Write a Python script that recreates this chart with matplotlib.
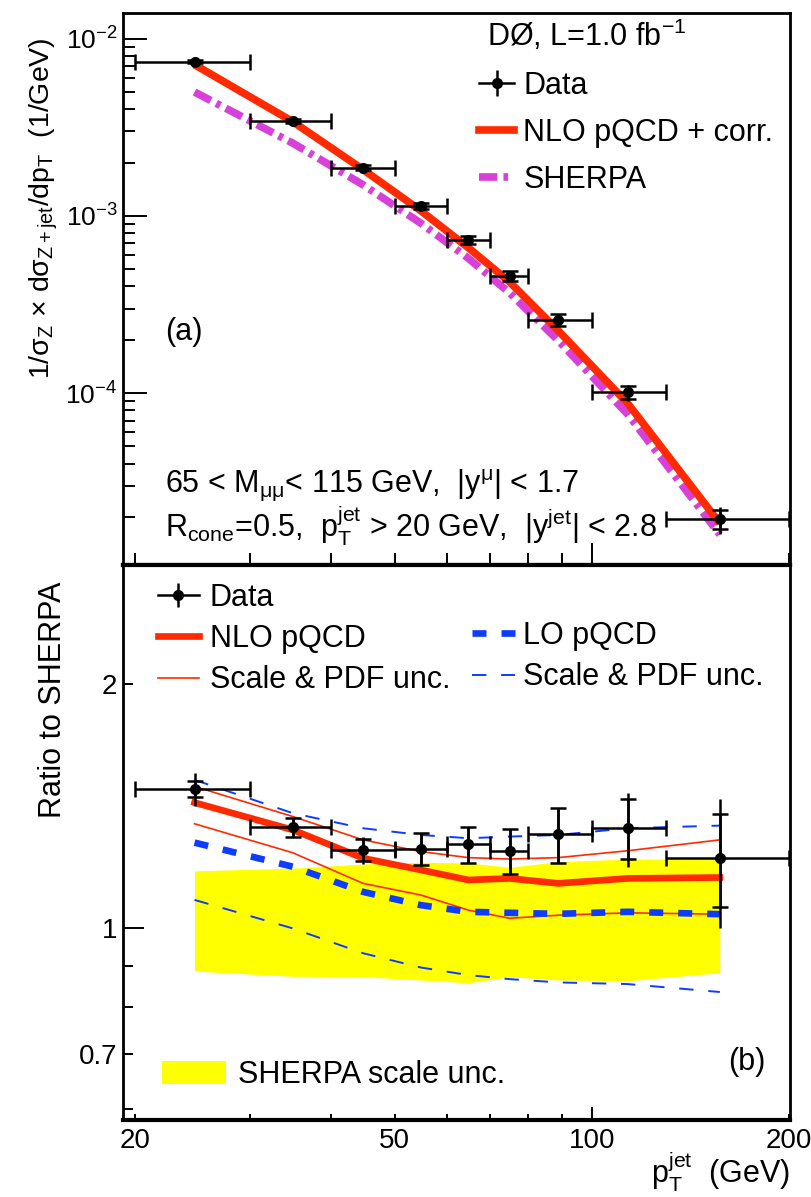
import matplotlib
matplotlib.use('Agg')
import matplotlib.pyplot as plt
from matplotlib.lines import Line2D
from matplotlib.patches import Patch
from matplotlib.ticker import FixedLocator, FixedFormatter, NullFormatter

plt.rcParams['font.family'] = ['Liberation Sans', 'DejaVu Sans']
plt.rcParams['mathtext.fontset'] = 'custom'
plt.rcParams['mathtext.rm'] = 'Liberation Sans'
plt.rcParams['mathtext.it'] = 'Liberation Sans:italic'
plt.rcParams['mathtext.default'] = 'regular'

# jet pT bins (GeV) and point positions
pt = [24.7, 34.9, 44.7, 54.8, 64.8, 74.9, 88.9, 113.5, 157.0]
bin_lo = [20, 30, 40, 50, 60, 70, 80, 100, 130]
bin_hi = [30, 40, 50, 60, 70, 80, 100, 130, 200]

# (a) normalised cross section (1/GeV)
xs_data = [7.44e-3, 3.44e-3, 1.87e-3, 1.14e-3, 7.31e-4, 4.58e-4, 2.58e-4, 1.01e-4, 1.94e-5]
xs_stat = [1.7e-4, 9.6e-5, 6.0e-5, 5.1e-5, 3.7e-5, 2.9e-5, 2.0e-5, 8.5e-6, 2.4e-6]
xs_tot = [3.4e-4, 9.6e-5, 7.1e-5, 5.2e-5, 3.7e-5, 2.9e-5, 2.0e-5, 1.06e-5, 3.4e-6]
xs_nlo = [7.15e-3, 3.41e-3, 1.83e-3, 1.07e-3, 6.61e-4, 4.24e-4, 2.25e-4, 8.75e-5, 1.84e-5]
xs_sherpa = [5.01e-3, 2.58e-3, 1.50e-3, 9.1e-4, 5.76e-4, 3.68e-4, 1.98e-4, 7.6e-5, 1.59e-5]

# (b) ratio to SHERPA
ratio_data = [1.484, 1.331, 1.249, 1.252, 1.269, 1.245, 1.305, 1.330, 1.222]
ratio_stat = [0.034, 0.037, 0.040, 0.057, 0.064, 0.080, 0.103, 0.112, 0.160]
ratio_tot = [0.068, 0.037, 0.048, 0.058, 0.064, 0.080, 0.103, 0.139, 0.220]
nlo_ratio = [1.428, 1.322, 1.220, 1.180, 1.147, 1.152, 1.136, 1.152, 1.155]
nlo_up = [1.495, 1.373, 1.285, 1.243, 1.222, 1.217, 1.222, 1.246, 1.285]
nlo_dn = [1.345, 1.239, 1.136, 1.099, 1.053, 1.029, 1.038, 1.045, 1.041]
lo_ratio = [1.275, 1.191, 1.109, 1.068, 1.048, 1.045, 1.042, 1.048, 1.041]
lo_up = [1.523, 1.386, 1.328, 1.303, 1.291, 1.297, 1.303, 1.328, 1.338]
lo_dn = [1.084, 1.000, 0.932, 0.895, 0.876, 0.866, 0.858, 0.854, 0.835]
sherpa_up = [1.177, 1.186, 1.200, 1.206, 1.204, 1.189, 1.208, 1.217, 1.217]
sherpa_dn = [0.886, 0.873, 0.872, 0.864, 0.857, 0.872, 0.864, 0.862, 0.882]

RED = '#ff2a00'
BLUE = '#0d3cff'
MAG = '#d93fd9'
YEL = '#ffff00'
fs = 22

xerr = [[p - lo for p, lo in zip(pt, bin_lo)], [hi - p for p, hi in zip(pt, bin_hi)]]

fig = plt.figure(figsize=(8.12, 11.97), dpi=100)
W, H = 812.0, 1197.0
ax1 = fig.add_axes([123 / W, 1 - 565 / H, 667 / W, 552 / H])
ax2 = fig.add_axes([123 / W, 1 - 1120 / H, 667 / W, 555 / H])

# ---- top panel ----
ax1.plot(pt, xs_sherpa, color=MAG, lw=5.5, dashes=(2.4, 0.8, 0.6, 0.8), zorder=2)
ax1.plot(pt, xs_nlo, color=RED, lw=5.5, solid_capstyle='butt', zorder=3)
ax1.errorbar(pt, xs_data, yerr=xs_tot, fmt='none', ecolor='k', elinewidth=1.8, capsize=0, zorder=4)
ax1.errorbar(pt, xs_data, xerr=xerr, yerr=xs_stat, fmt='o', color='k', ms=7,
             elinewidth=1.8, capsize=5.5, capthick=1.8, zorder=5)

ax1.set_xscale('log')
ax1.set_yscale('log')
ax1.set_xlim(19.2, 201)
ax1.set_ylim(1.07e-5, 1.4e-2)

data_h1 = (Line2D([], [], color='k', lw=1.8),
           Line2D([], [], ls='none', marker='|', ms=19, mew=1.8, color='k'),
           Line2D([], [], ls='none', marker='o', ms=7, color='k'))
ax1.legend([data_h1,
            Line2D([], [], color=RED, lw=5.5),
            Line2D([], [], color=MAG, lw=5.5, dashes=(2.4, 0.8, 0.6, 0.8))],
           ['Data', 'NLO pQCD + corr.', 'SHERPA'],
           loc='upper left', bbox_to_anchor=(0.534, 0.895), frameon=False,
           fontsize=fs, borderpad=0, borderaxespad=0, handlelength=1.15,
           handletextpad=0.3, labelspacing=0.55)

ax1.text(0.546, 0.940, 'DØ, L=1.0 fb$^{-1}$', transform=ax1.transAxes, fontsize=fs, va='baseline')
ax1.text(0.063, 0.408, '(a)', transform=ax1.transAxes, fontsize=fs, va='baseline')
ax1.text(0.063, 0.132, '65 < M$_{μμ}$< 115 GeV,  |y$^{μ}$| < 1.7',
         transform=ax1.transAxes, fontsize=fs, va='baseline')
ax1.text(0.063, 0.050, 'R$_{cone}$=0.5,  p$_{T}^{jet}$ > 20 GeV,  |y$^{jet}$| < 2.8',
         transform=ax1.transAxes, fontsize=fs, va='baseline')

# ---- bottom panel ----
ax2.fill_between(pt, sherpa_dn, sherpa_up, color=YEL, lw=0, zorder=1)
ax2.plot(pt, lo_up, color=BLUE, lw=1.4, dashes=(7.4, 7.6), zorder=2)
ax2.plot(pt, lo_dn, color=BLUE, lw=1.4, dashes=(7.4, 7.6), zorder=2)
ax2.plot(pt, nlo_up, color=RED, lw=1.2, zorder=2)
ax2.plot(pt, nlo_dn, color=RED, lw=1.2, zorder=2)
ax2.plot(pt, lo_ratio, color=BLUE, lw=4.8, dashes=(2.1, 2.25), zorder=3)
ax2.plot(pt, nlo_ratio, color=RED, lw=4.8, zorder=3)
ax2.errorbar(pt, ratio_data, yerr=ratio_tot, fmt='none', ecolor='k', elinewidth=1.8, capsize=0, zorder=4)
ax2.errorbar(pt, ratio_data, xerr=xerr, yerr=ratio_stat, fmt='o', color='k', ms=7,
             elinewidth=1.8, capsize=5.5, capthick=1.8, zorder=5)

ax2.set_xscale('log')
ax2.set_yscale('log')
ax2.set_xlim(19.2, 201)
ax2.set_ylim(0.581, 2.80)

data_h2 = (Line2D([], [], color='k', lw=1.8),
           Line2D([], [], ls='none', marker='|', ms=17, mew=1.8, color='k'),
           Line2D([], [], ls='none', marker='o', ms=7, color='k'))
leg1 = ax2.legend([data_h2,
                   Line2D([], [], color=RED, lw=4.8),
                   Line2D([], [], color=RED, lw=1.2)],
                  ['Data', 'NLO pQCD', 'Scale & PDF unc.'],
                  loc='upper left', bbox_to_anchor=(0.0525, 0.968), frameon=False,
                  fontsize=fs, borderpad=0, borderaxespad=0, handlelength=1.34,
                  handletextpad=0.36, labelspacing=0.37)
ax2.add_artist(leg1)
leg2 = ax2.legend([Line2D([], [], color=BLUE, lw=4.8, dashes=(2.1, 2.25)),
                   Line2D([], [], color=BLUE, lw=1.4, dashes=(7.4, 7.6))],
                  ['LO pQCD', 'Scale & PDF unc.'],
                  loc='upper left', bbox_to_anchor=(0.523, 0.899), frameon=False,
                  fontsize=fs, borderpad=0, borderaxespad=0, handlelength=1.4,
                  handletextpad=0.29, labelspacing=0.37)
ax2.add_artist(leg2)
ax2.legend([Patch(facecolor=YEL, edgecolor='none')], ['SHERPA scale unc.'],
           loc='upper left', bbox_to_anchor=(0.058, 0.108), frameon=False,
           fontsize=fs, borderpad=0, borderaxespad=0, handlelength=2.1,
           handleheight=0.78, handletextpad=0.39)

ax2.text(0.964, 0.090, '(b)', transform=ax2.transAxes, fontsize=fs, va='baseline', ha='right')

# ---- axes styling ----
for ax in (ax1, ax2):
    for s in ax.spines.values():
        s.set_linewidth(2.0)
    ax.xaxis.set_major_locator(FixedLocator([100]))
    ax.xaxis.set_minor_locator(FixedLocator([20, 30, 40, 50, 60, 70, 80, 90, 200]))
    ax.tick_params(which='both', direction='in', top=False, right=False, width=1.4,
                   labelsize=20, colors='k')

ax1.spines['bottom'].set_linewidth(3.0)
ax2.spines['top'].set_linewidth(3.0)
ax2.spines['bottom'].set_linewidth(3.0)

ax1.xaxis.set_major_formatter(NullFormatter())
ax1.xaxis.set_minor_formatter(NullFormatter())
ax1.tick_params(axis='x', which='major', length=16)
ax1.tick_params(axis='x', which='minor', length=8.5)
ax1.tick_params(axis='y', which='major', length=17, pad=4, labelsize=19)
ax1.tick_params(axis='y', which='minor', length=8.5)

ax2.xaxis.set_major_formatter(FixedFormatter(['100']))
ax2.xaxis.set_minor_formatter(FixedFormatter(['20', '', '', '50', '', '', '', '', '200']))
ax2.tick_params(axis='x', which='major', length=9.5, pad=6)
ax2.tick_params(axis='x', which='minor', length=4.5, pad=6)

ax2.yaxis.set_major_locator(FixedLocator([1]))
ax2.yaxis.set_major_formatter(FixedFormatter(['1']))
ax2.yaxis.set_minor_locator(FixedLocator([0.6, 0.7, 0.8, 0.9, 2]))
ax2.yaxis.set_minor_formatter(FixedFormatter(['', '0.7', '', '', '2']))
ax2.tick_params(axis='y', which='major', length=15, pad=4)
ax2.tick_params(axis='y', which='minor', length=7.5, pad=4)

fig.text(44 / W, 1 - 37 / H, '1/σ$_{Z}$ × dσ$_{Z+jet}$/dp$_{T}$  (1/GeV)',
         rotation=90, ha='center', va='top', fontsize=20.5)
fig.text(53 / W, 1 - 582 / H, 'Ratio to SHERPA', rotation=90, ha='center', va='top', fontsize=fs)
fig.text(790 / W, 1 - 1184 / H, 'p$_{T}^{jet}$  (GeV)', ha='right', va='baseline', fontsize=fs)

fig.savefig('out.png', dpi=100)
